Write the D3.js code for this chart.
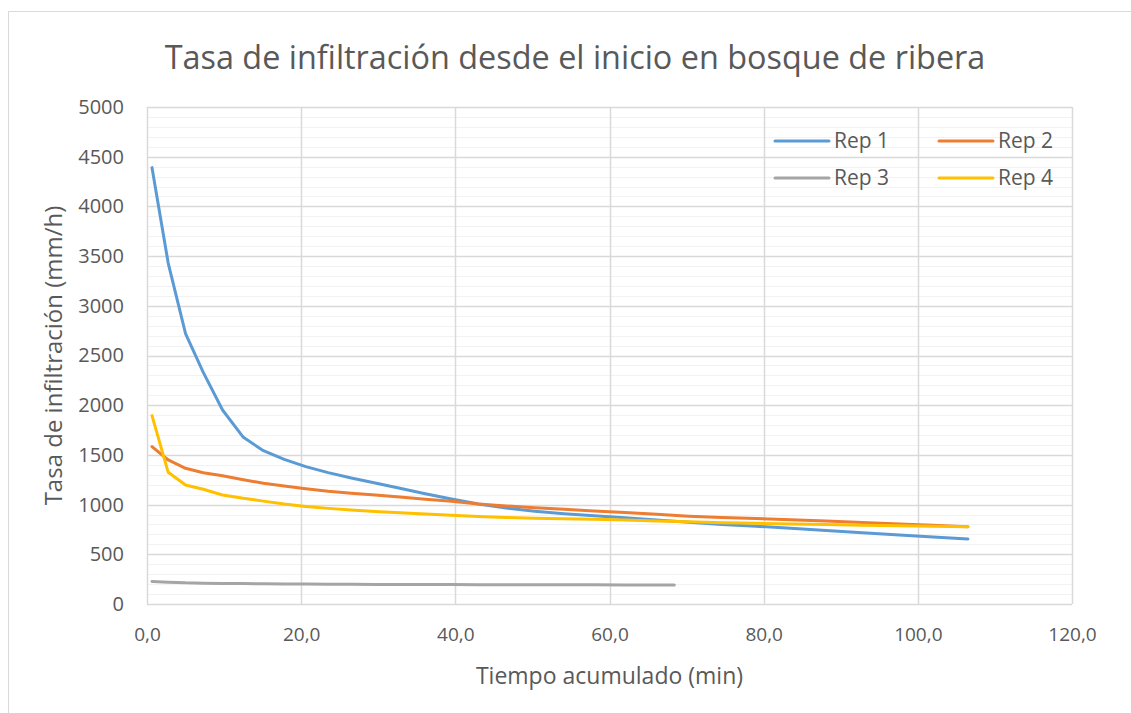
<!DOCTYPE html>
<html>
<head>
<meta charset="utf-8">
<script src="https://cdn.jsdelivr.net/npm/d3@7"></script>
<style>
  html, body { margin: 0; padding: 0; background: #fff; }
  svg text { font-family: "Open Sans", "Noto Sans", sans-serif; fill: #595959; }
</style>
</head>
<body>
<svg id="chart" width="1131" height="713"></svg>
<script>
// Tiempo acumulado (min) de cada lectura
const tiempos = [0.65, 2.75, 5.0, 7.3, 9.8, 12.5, 15.1, 17.8, 20.6, 23.5, 26.5, 29.6, 32.8, 36.1, 39.5,
                 43.0, 46.6, 50.3, 54.1, 58.0, 62.0, 66.1, 70.3, 74.6, 79.0, 83.5, 88.1, 92.8, 97.6, 102.0, 106.5];
const tiemposRep3 = [0.65, 2.75, 5.0, 7.3, 9.8, 12.5, 15.1, 17.8, 20.6, 23.5, 26.5, 29.6, 32.8, 36.1, 39.5,
                     43.0, 46.6, 50.3, 54.1, 58.0, 62.0, 65.2, 68.4];

// Tasa de infiltración (mm/h) por repetición
const rep1 = [4390, 3430, 2720, 2330, 1952, 1677, 1542, 1455, 1382, 1322, 1268, 1218, 1165, 1110, 1056,
              1006, 965, 934, 908, 888, 868, 845, 822, 800, 782, 762, 740, 716, 694, 674, 654];
const rep2 = [1583, 1449, 1365, 1321, 1291, 1250, 1215, 1188, 1160, 1135, 1115, 1097, 1076, 1055, 1034,
              1007, 986, 968, 952, 936, 920, 902, 884, 870, 860, 848, 835, 820, 806, 792, 778];
const rep3 = [226, 220, 213, 210, 207, 205, 203, 202, 200, 199, 198, 197, 196, 196, 195,
              194, 194, 193, 193, 193, 192, 192, 192];
const rep4 = [1895, 1325, 1197, 1154, 1097, 1063, 1035, 1005, 982, 962, 946, 931, 917, 905, 893,
              881, 871, 863, 857, 852, 845, 835, 827, 818, 812, 805, 799, 792, 786, 781, 778];

const seriesNames = ["Rep 1", "Rep 2", "Rep 3", "Rep 4"];
const seriesColors = ["#5B9BD5", "#ED7D31", "#A5A5A5", "#FFC000"];

const xTicks = [0, 20, 40, 60, 80, 100, 120];
const yTicks = [0, 500, 1000, 1500, 2000, 2500, 3000, 3500, 4000, 4500, 5000];

const titulo = "Tasa de infiltración desde el inicio en bosque de ribera";
const tituloX = "Tiempo acumulado (min)";
const tituloY = "Tasa de infiltración (mm/h)";

const series = [
  { name: seriesNames[0], color: seriesColors[0], pts: tiempos.map((t, i) => [t, rep1[i]]) },
  { name: seriesNames[1], color: seriesColors[1], pts: tiempos.map((t, i) => [t, rep2[i]]) },
  { name: seriesNames[2], color: seriesColors[2], pts: tiemposRep3.map((t, i) => [t, rep3[i]]) },
  { name: seriesNames[3], color: seriesColors[3], pts: tiempos.map((t, i) => [t, rep4[i]]) }
];

const svg = d3.select("#chart");
const plot = { left: 147, top: 107, right: 1072, bottom: 604 };

// chart frame
svg.append("rect")
  .attr("x", 8.5).attr("y", 11.5)
  .attr("width", 1200).attr("height", 800)
  .attr("fill", "#fff").attr("stroke", "#d9d9d9").attr("stroke-width", 1);

const x = d3.scaleLinear().domain([0, 120]).range([plot.left, plot.right]);
const y = d3.scaleLinear().domain([0, 5000]).range([plot.bottom, plot.top]);

// minor horizontal grid every 100
const minor = d3.range(100, 5000, 100).filter(v => v % 500 !== 0);
svg.append("g").selectAll("line").data(minor).join("line")
  .attr("x1", plot.left).attr("x2", plot.right)
  .attr("y1", d => Math.round(y(d)) + 0.5).attr("y2", d => Math.round(y(d)) + 0.5)
  .attr("stroke", "#f2f2f2").attr("stroke-width", 1.2);

// major grid
svg.append("g").selectAll("line").data(yTicks).join("line")
  .attr("x1", plot.left).attr("x2", plot.right)
  .attr("y1", d => Math.round(y(d)) + 0.5).attr("y2", d => Math.round(y(d)) + 0.5)
  .attr("stroke", "#d9d9d9").attr("stroke-width", 1.5);
svg.append("g").selectAll("line").data(xTicks).join("line")
  .attr("y1", plot.top).attr("y2", plot.bottom)
  .attr("x1", d => Math.round(x(d)) + 0.5).attr("x2", d => Math.round(x(d)) + 0.5)
  .attr("stroke", "#d9d9d9").attr("stroke-width", 1.5);

// axes labels via d3 axes
const fmt = d => d3.format(".1f")(d).replace(".", ",");
const xAxis = svg.append("g").attr("transform", `translate(0,${plot.bottom})`)
  .call(d3.axisBottom(x).tickValues(xTicks).tickFormat(fmt).tickSize(0).tickPadding(24));
xAxis.select(".domain").remove();
xAxis.selectAll("text").style("font-size", "19px").attr("fill", "#595959");

const yAxis = svg.append("g").attr("transform", `translate(${plot.left},0)`)
  .call(d3.axisLeft(y).tickValues(yTicks).tickFormat(d3.format("d")).tickSize(0).tickPadding(23));
yAxis.select(".domain").remove();
yAxis.selectAll("text").style("font-size", "20px").attr("fill", "#595959");

// series lines
const line = d3.line().x(d => x(d[0])).y(d => y(d[1]));
svg.append("g").selectAll("path").data(series).join("path")
  .attr("d", d => line(d.pts))
  .attr("fill", "none")
  .attr("stroke", d => d.color)
  .attr("stroke-width", 3)
  .attr("stroke-linejoin", "round")
  .attr("stroke-linecap", "round");

// title
svg.append("text").attr("x", 575).attr("y", 69)
  .attr("text-anchor", "middle").style("font-size", "32.4px").text(titulo);

// axis titles
svg.append("text").attr("x", x(60)).attr("y", 684)
  .attr("text-anchor", "middle").style("font-size", "23px").text(tituloX);
svg.append("text").attr("transform", `translate(62,${(plot.top + plot.bottom) / 2}) rotate(-90)`)
  .attr("text-anchor", "middle").style("font-size", "24px").text(tituloY);

// legend
const legendPos = [[775, 141], [939, 141], [775, 178], [939, 178]];
const lg = svg.append("g").selectAll("g").data(series).join("g")
  .attr("transform", (d, i) => `translate(${legendPos[i][0]},${legendPos[i][1]})`);
lg.append("line").attr("x1", 0).attr("x2", 54).attr("y1", 0).attr("y2", 0)
  .attr("stroke", d => d.color).attr("stroke-width", 3).attr("stroke-linecap", "round");
lg.append("text").attr("x", 59).attr("y", 0).attr("dy", "0.35em")
  .style("font-size", "21px").text(d => d.name);
</script>
</body>
</html>
